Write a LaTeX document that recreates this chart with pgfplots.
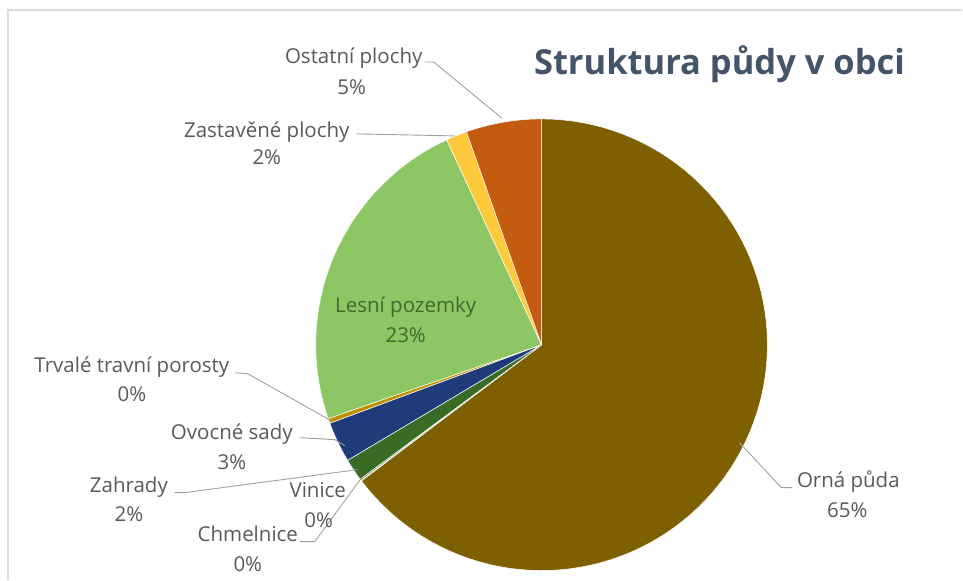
\documentclass[border=0pt]{standalone}
\usepackage{fontspec}
\setmainfont{Open Sans}
\usepackage{pgfplots}
\pgfplotsset{compat=1.18}

\definecolor{orna}{HTML}{7F6000}
\definecolor{chmel}{HTML}{264478}
\definecolor{vinice}{HTML}{43682B}
\definecolor{zahrady}{HTML}{3A6B24}
\definecolor{ovoc}{HTML}{1F3B7A}
\definecolor{trvale}{HTML}{BF8F00}
\definecolor{lesni}{HTML}{8DC763}
\definecolor{zastav}{HTML}{FFC93C}
\definecolor{ostatni}{HTML}{C55A11}
\definecolor{labgray}{HTML}{595959}
\definecolor{titlec}{HTML}{44546A}
\definecolor{leader}{HTML}{A0A0A0}
\definecolor{lesnilab}{HTML}{3F6A2B}
\definecolor{frame}{HTML}{DCDCDC}

% pie centre and radius in picture units (1 unit = 1pt)
\def\cx{542}\def\cy{345}\def\rr{226}
\def\cum{0}
\newcommand\slice[2]{%
  \pgfmathsetmacro\sa{\cum*3.6}%
  \pgfmathsetmacro\sb{(\cum+#1)*3.6}%
  \pgfmathsetmacro\newcum{\cum+#1}\xdef\cum{\newcum}%
  \edef\tmp{\noexpand\addplot[fill=#2, draw=white, line width=0.5pt, domain=\sa:\sb, samples=90, variable=\noexpand\t]
    ({\cx+\rr*sin(\noexpand\t)}, {\cy-\rr*cos(\noexpand\t)}) -- (axis cs:\cx,\cy) -- cycle;}%
  \tmp}

\begin{document}
\begin{tikzpicture}
\begin{axis}[
  width=963pt, height=580pt, scale only axis,
  xmin=0, xmax=963, ymin=0, ymax=580, y dir=reverse,
  hide axis, clip=false,
]
\path (axis cs:0,0) rectangle (axis cs:963,580);
% chart frame
\draw[frame, line width=1.5pt] (axis cs:963,10) -- (axis cs:8,10) -- (axis cs:8,580);

% slices (percent of total), clockwise from 12 o'clock
\slice{64.7}{orna}      % Orná půda
\slice{0.05}{chmel}     % Chmelnice
\slice{0.1}{vinice}     % Vinice
\slice{1.6}{zahrady}    % Zahrady
\slice{2.9}{ovoc}       % Ovocné sady
\slice{0.35}{trvale}    % Trvalé travní porosty
\slice{23.4}{lesni}     % Lesní pozemky
\slice{1.5}{zastav}     % Zastavěné plochy
\slice{5.4}{ostatni}    % Ostatní plochy

% leader lines
\begin{scope}[leader, line width=0.9pt]
\draw (axis cs:425,62) -- (axis cs:434,62) -- (axis cs:502,118);
\draw (axis cs:357,134) -- (axis cs:455,136);
\draw (axis cs:235,373) -- (axis cs:248,374) -- (axis cs:333,422);
\draw (axis cs:300,438) -- (axis cs:335,440) -- (axis cs:345,446);
\draw (axis cs:175,493) -- (axis cs:185,493) -- (axis cs:358,470);
\draw (axis cs:300,542) -- (axis cs:315,542) -- (axis cs:362,478);
\draw (axis cs:740,443) -- (axis cs:782,488) -- (axis cs:793,488);
\end{scope}

% labels
\begin{scope}[every node/.style={font=\fontsize{20.5}{24}\selectfont, text=labgray, anchor=base, inner sep=0pt}]
\node at (axis cs:354,64) {Ostatní plochy};
\node at (axis cs:352,95) {5\%};
\node at (axis cs:267,138) {Zastavěné plochy};
\node at (axis cs:267,165) {2\%};
\node[text=lesnilab] at (axis cs:406,313) {Lesní pozemky};
\node[text=lesnilab] at (axis cs:406,343) {23\%};
\node at (axis cs:132,373) {Trvalé travní porosty};
\node at (axis cs:132,402) {0\%};
\node at (axis cs:232,440) {Ovocné sady};
\node at (axis cs:232,470) {3\%};
\node at (axis cs:129,493) {Zahrady};
\node at (axis cs:129,522) {2\%};
\node at (axis cs:318,498) {Vinice};
\node at (axis cs:319,528) {0\%};
\node at (axis cs:248,542) {Chmelnice};
\node at (axis cs:248,572) {0\%};
\node at (axis cs:849,488) {Orná půda};
\node at (axis cs:848,518) {65\%};
\end{scope}

% title
\node[anchor=base, inner sep=0pt, text=titlec, font=\fontsize{34.5}{40}\selectfont\bfseries] at (axis cs:720,75) {Struktura půdy v obci};
\end{axis}
\end{tikzpicture}
\end{document}
